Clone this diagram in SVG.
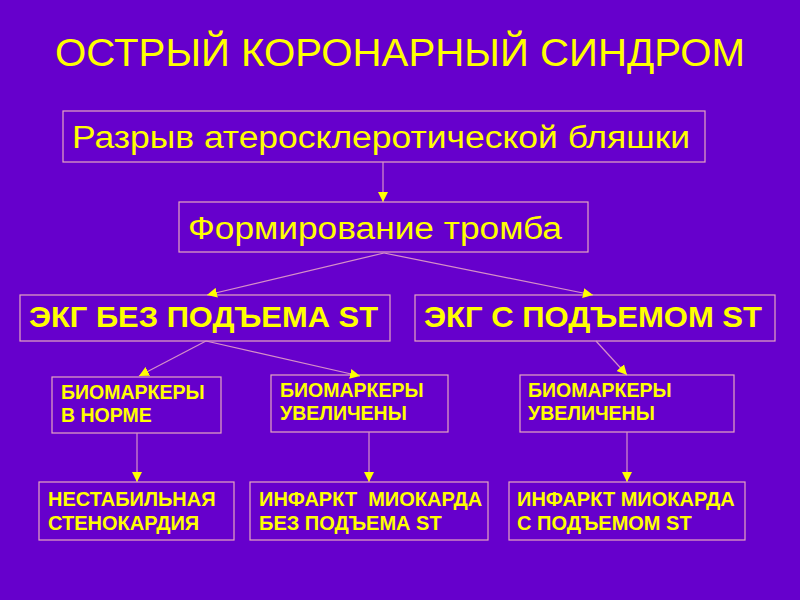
<svg xmlns="http://www.w3.org/2000/svg" width="800" height="600" viewBox="0 0 800 600">
<defs>
<marker id="ah" markerWidth="10" markerHeight="11" refX="10" refY="5" orient="auto" markerUnits="userSpaceOnUse" viewBox="0 0 10 10">
<path d="M0,0 L10,5 L0,10 Z" fill="#FFFF00"/>
</marker>
<style>
.box{fill:none;stroke:#E6A6C0;stroke-width:1.2}
.t{fill:#FFFF00;font-family:"Liberation Sans",Arial,sans-serif}
.big{font-size:31px}
.mid{font-size:30px;font-weight:bold}
.sm{font-size:19.5px;font-weight:bold}
.sb{font-size:20px;font-weight:bold}
.c{stroke:#D890C8;stroke-width:1.2;fill:none;marker-end:url(#ah)}
</style>
</defs>
<rect width="800" height="600" fill="#6600CC"/>
<text class="t" x="55" y="66" font-size="39" textLength="690" lengthAdjust="spacingAndGlyphs">ОСТРЫЙ КОРОНАРНЫЙ СИНДРОМ</text>
<g id="n1"><rect class="box" x="63" y="111" width="642" height="51"/><text class="t big" x="72" y="148" textLength="618" lengthAdjust="spacingAndGlyphs">Разрыв атеросклеротической бляшки</text></g>
<g id="n2"><rect class="box" x="179" y="202" width="409" height="50"/><text class="t big" x="188" y="239" textLength="374" lengthAdjust="spacingAndGlyphs">Формирование тромба</text></g>
<g id="n3"><rect class="box" x="20" y="295" width="370" height="46"/><text class="t mid" x="29" y="327" textLength="349" lengthAdjust="spacingAndGlyphs">ЭКГ БЕЗ ПОДЪЕМА ST</text></g>
<g id="n4"><rect class="box" x="415" y="295" width="360" height="46"/><text class="t mid" x="424" y="327" textLength="338" lengthAdjust="spacingAndGlyphs">ЭКГ С ПОДЪЕМОМ ST</text></g>
<g id="n5"><rect class="box" x="52" y="377" width="169" height="56"/><text class="t sm" x="61" y="399">БИОМАРКЕРЫ</text><text class="t sm" x="61" y="422">В НОРМЕ</text></g>
<g id="n6"><rect class="box" x="271" y="375" width="177" height="57"/><text class="t sm" x="280" y="397">БИОМАРКЕРЫ</text><text class="t sm" x="280" y="420">УВЕЛИЧЕНЫ</text></g>
<g id="n7"><rect class="box" x="520" y="375" width="214" height="57"/><text class="t sm" x="528" y="397">БИОМАРКЕРЫ</text><text class="t sm" x="528" y="420">УВЕЛИЧЕНЫ</text></g>
<g id="n8"><rect class="box" x="39" y="482" width="195" height="58"/><text class="t sb" x="48" y="506">НЕСТАБИЛЬНАЯ</text><text class="t sb" x="48" y="530">СТЕНОКАРДИЯ</text></g>
<g id="n9"><rect class="box" x="250" y="482" width="238" height="58"/><text class="t sb" x="259" y="506" xml:space="preserve">ИНФАРКТ  МИОКАРДА</text><text class="t sb" x="259" y="530">БЕЗ ПОДЪЕМА ST</text></g>
<g id="n10"><rect class="box" x="509" y="482" width="236" height="58"/><text class="t sb" x="517" y="506">ИНФАРКТ МИОКАРДА</text><text class="t sb" x="517" y="530">С ПОДЪЕМОМ ST</text></g>
<g id="connectors">
<line class="c" x1="383" y1="162" x2="383" y2="202"/>
<line class="c" x1="384" y1="253" x2="207" y2="295"/>
<line class="c" x1="384" y1="253" x2="593" y2="295"/>
<line class="c" x1="206" y1="341" x2="139" y2="376"/>
<line class="c" x1="206" y1="341" x2="360" y2="376"/>
<line class="c" x1="596" y1="341" x2="627" y2="375"/>
<line class="c" x1="137" y1="433" x2="137" y2="482"/>
<line class="c" x1="369" y1="432" x2="369" y2="482"/>
<line class="c" x1="627" y1="432" x2="627" y2="482"/>
</g>
</svg>
